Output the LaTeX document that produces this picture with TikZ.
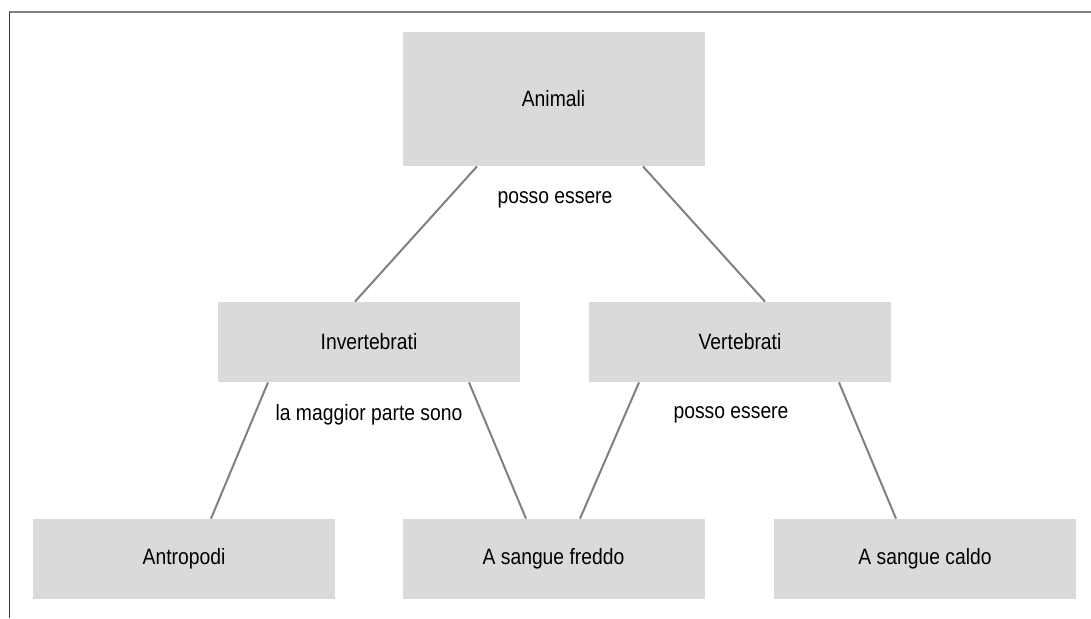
\documentclass[tikz,border=0pt]{standalone}
\usepackage{fontspec}
\setmainfont{Liberation Sans}[FakeStretch=0.87]
\usepackage{tikz}
\usetikzlibrary{positioning}

\definecolor{boxgray}{HTML}{D9DADA}
\definecolor{linegray}{HTML}{808080}

\begin{document}
\begin{tikzpicture}[
    x=0.5pt, y=-0.5pt,
    cbox/.style={fill=boxgray, inner sep=0pt, minimum width=151pt, minimum height=40pt, align=center, font=\fontsize{11.1}{13}\selectfont},
    link/.style={draw=linegray, line width=1pt},
    lbl/.style={inner sep=0pt, font=\fontsize{11.1}{13}\selectfont}
]
\useasboundingbox (0,0) rectangle (1091,618);
\draw[linegray, line width=1pt] (9,12) -- (1091,12);
\draw[black!80, line width=0.6pt] (9.5,12) -- (9.5,618);

\node[cbox, minimum height=67pt] (animali) at (553.5,99) {Animali};
\node[cbox] (invert) at (369,342) {Invertebrati};
\node[cbox] (vert) at (740,342) {Vertebrati};
\node[cbox] (antro) at (184,559) {Antropodi};
\node[cbox] (freddo) at (553.5,559) {A sangue freddo};
\node[cbox] (caldo) at (925,559) {A sangue caldo};

\node[lbl] (lbl1) at (555,200) {posso essere};
\node[lbl] (lbl2) at (369,415) {la maggior parte sono};
\node[lbl] (lbl3) at (731,415) {posso essere};

\draw[link] ([xshift=-38.25pt]animali.south) -- ([xshift=-7pt]invert.north);
\draw[link] ([xshift=44.75pt]animali.south) -- ([xshift=12.5pt]vert.north);
\draw[link] ([xshift=-50.5pt]invert.south) -- ([xshift=13.5pt]antro.north);
\draw[link] ([xshift=50pt]invert.south) -- ([xshift=-13.75pt]freddo.north);
\draw[link] ([xshift=-50.5pt]vert.south) -- ([xshift=13.25pt]freddo.north);
\draw[link] ([xshift=49.5pt]vert.south) -- ([xshift=-14.5pt]caldo.north);
\end{tikzpicture}
\end{document}
